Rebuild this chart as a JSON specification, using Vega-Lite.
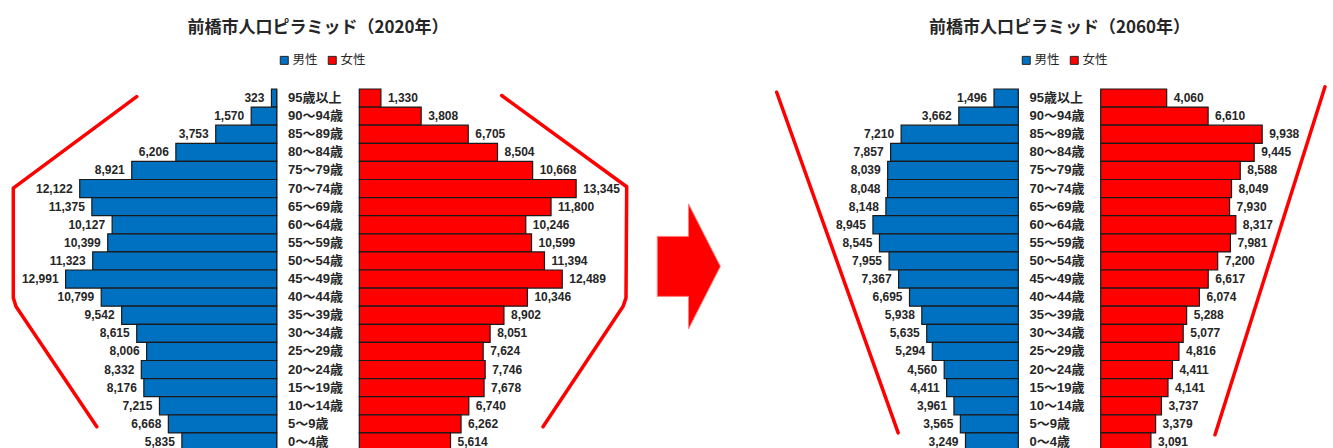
{
  "$schema": "https://vega.github.io/schema/vega-lite/v6.json",
  "padding": {"left": 0, "top": 19, "right": 0, "bottom": 0},
  "spacing": 0,
  "bounds": "flush",
  "background": "white",
  "config": {"view": {"stroke": null}},
  "datasets": {
    "pop": [
      {"year": 2020, "sex": "男性", "age": "95歳以上", "pop": 323},
      {"year": 2020, "sex": "男性", "age": "90～94歳", "pop": 1570},
      {"year": 2020, "sex": "男性", "age": "85～89歳", "pop": 3753},
      {"year": 2020, "sex": "男性", "age": "80～84歳", "pop": 6206},
      {"year": 2020, "sex": "男性", "age": "75～79歳", "pop": 8921},
      {"year": 2020, "sex": "男性", "age": "70～74歳", "pop": 12122},
      {"year": 2020, "sex": "男性", "age": "65～69歳", "pop": 11375},
      {"year": 2020, "sex": "男性", "age": "60～64歳", "pop": 10127},
      {"year": 2020, "sex": "男性", "age": "55～59歳", "pop": 10399},
      {"year": 2020, "sex": "男性", "age": "50～54歳", "pop": 11323},
      {"year": 2020, "sex": "男性", "age": "45～49歳", "pop": 12991},
      {"year": 2020, "sex": "男性", "age": "40～44歳", "pop": 10799},
      {"year": 2020, "sex": "男性", "age": "35～39歳", "pop": 9542},
      {"year": 2020, "sex": "男性", "age": "30～34歳", "pop": 8615},
      {"year": 2020, "sex": "男性", "age": "25～29歳", "pop": 8006},
      {"year": 2020, "sex": "男性", "age": "20～24歳", "pop": 8332},
      {"year": 2020, "sex": "男性", "age": "15～19歳", "pop": 8176},
      {"year": 2020, "sex": "男性", "age": "10～14歳", "pop": 7215},
      {"year": 2020, "sex": "男性", "age": "5～9歳", "pop": 6668},
      {"year": 2020, "sex": "男性", "age": "0～4歳", "pop": 5835},
      {"year": 2020, "sex": "女性", "age": "95歳以上", "pop": 1330},
      {"year": 2020, "sex": "女性", "age": "90～94歳", "pop": 3808},
      {"year": 2020, "sex": "女性", "age": "85～89歳", "pop": 6705},
      {"year": 2020, "sex": "女性", "age": "80～84歳", "pop": 8504},
      {"year": 2020, "sex": "女性", "age": "75～79歳", "pop": 10668},
      {"year": 2020, "sex": "女性", "age": "70～74歳", "pop": 13345},
      {"year": 2020, "sex": "女性", "age": "65～69歳", "pop": 11800},
      {"year": 2020, "sex": "女性", "age": "60～64歳", "pop": 10246},
      {"year": 2020, "sex": "女性", "age": "55～59歳", "pop": 10599},
      {"year": 2020, "sex": "女性", "age": "50～54歳", "pop": 11394},
      {"year": 2020, "sex": "女性", "age": "45～49歳", "pop": 12489},
      {"year": 2020, "sex": "女性", "age": "40～44歳", "pop": 10346},
      {"year": 2020, "sex": "女性", "age": "35～39歳", "pop": 8902},
      {"year": 2020, "sex": "女性", "age": "30～34歳", "pop": 8051},
      {"year": 2020, "sex": "女性", "age": "25～29歳", "pop": 7624},
      {"year": 2020, "sex": "女性", "age": "20～24歳", "pop": 7746},
      {"year": 2020, "sex": "女性", "age": "15～19歳", "pop": 7678},
      {"year": 2020, "sex": "女性", "age": "10～14歳", "pop": 6740},
      {"year": 2020, "sex": "女性", "age": "5～9歳", "pop": 6262},
      {"year": 2020, "sex": "女性", "age": "0～4歳", "pop": 5614},
      {"year": 2060, "sex": "男性", "age": "95歳以上", "pop": 1496},
      {"year": 2060, "sex": "男性", "age": "90～94歳", "pop": 3662},
      {"year": 2060, "sex": "男性", "age": "85～89歳", "pop": 7210},
      {"year": 2060, "sex": "男性", "age": "80～84歳", "pop": 7857},
      {"year": 2060, "sex": "男性", "age": "75～79歳", "pop": 8039},
      {"year": 2060, "sex": "男性", "age": "70～74歳", "pop": 8048},
      {"year": 2060, "sex": "男性", "age": "65～69歳", "pop": 8148},
      {"year": 2060, "sex": "男性", "age": "60～64歳", "pop": 8945},
      {"year": 2060, "sex": "男性", "age": "55～59歳", "pop": 8545},
      {"year": 2060, "sex": "男性", "age": "50～54歳", "pop": 7955},
      {"year": 2060, "sex": "男性", "age": "45～49歳", "pop": 7367},
      {"year": 2060, "sex": "男性", "age": "40～44歳", "pop": 6695},
      {"year": 2060, "sex": "男性", "age": "35～39歳", "pop": 5938},
      {"year": 2060, "sex": "男性", "age": "30～34歳", "pop": 5635},
      {"year": 2060, "sex": "男性", "age": "25～29歳", "pop": 5294},
      {"year": 2060, "sex": "男性", "age": "20～24歳", "pop": 4560},
      {"year": 2060, "sex": "男性", "age": "15～19歳", "pop": 4411},
      {"year": 2060, "sex": "男性", "age": "10～14歳", "pop": 3961},
      {"year": 2060, "sex": "男性", "age": "5～9歳", "pop": 3565},
      {"year": 2060, "sex": "男性", "age": "0～4歳", "pop": 3249},
      {"year": 2060, "sex": "女性", "age": "95歳以上", "pop": 4060},
      {"year": 2060, "sex": "女性", "age": "90～94歳", "pop": 6610},
      {"year": 2060, "sex": "女性", "age": "85～89歳", "pop": 9938},
      {"year": 2060, "sex": "女性", "age": "80～84歳", "pop": 9445},
      {"year": 2060, "sex": "女性", "age": "75～79歳", "pop": 8588},
      {"year": 2060, "sex": "女性", "age": "70～74歳", "pop": 8049},
      {"year": 2060, "sex": "女性", "age": "65～69歳", "pop": 7930},
      {"year": 2060, "sex": "女性", "age": "60～64歳", "pop": 8317},
      {"year": 2060, "sex": "女性", "age": "55～59歳", "pop": 7981},
      {"year": 2060, "sex": "女性", "age": "50～54歳", "pop": 7200},
      {"year": 2060, "sex": "女性", "age": "45～49歳", "pop": 6617},
      {"year": 2060, "sex": "女性", "age": "40～44歳", "pop": 6074},
      {"year": 2060, "sex": "女性", "age": "35～39歳", "pop": 5288},
      {"year": 2060, "sex": "女性", "age": "30～34歳", "pop": 5077},
      {"year": 2060, "sex": "女性", "age": "25～29歳", "pop": 4816},
      {"year": 2060, "sex": "女性", "age": "20～24歳", "pop": 4411},
      {"year": 2060, "sex": "女性", "age": "15～19歳", "pop": 4141},
      {"year": 2060, "sex": "女性", "age": "10～14歳", "pop": 3737},
      {"year": 2060, "sex": "女性", "age": "5～9歳", "pop": 3379},
      {"year": 2060, "sex": "女性", "age": "0～4歳", "pop": 3091}
    ],
    "envelope": [
      {"year": 2020, "side": "男性", "pt": 1, "pop": 8615, "age": 97.9},
      {"year": 2020, "side": "男性", "pt": 2, "pop": 16209, "age": 72.6},
      {"year": 2020, "side": "男性", "pt": 3, "pop": 16209, "age": 42.3},
      {"year": 2020, "side": "男性", "pt": 4, "pop": 16043, "age": 39.9},
      {"year": 2020, "side": "男性", "pt": 5, "pop": 11071, "age": 6.7},
      {"year": 2020, "side": "女性", "pt": 1, "pop": 8763, "age": 98.2},
      {"year": 2020, "side": "女性", "pt": 2, "pop": 16455, "age": 73.0},
      {"year": 2020, "side": "女性", "pt": 3, "pop": 16412, "age": 42.3},
      {"year": 2020, "side": "女性", "pt": 4, "pop": 16228, "age": 39.9},
      {"year": 2020, "side": "女性", "pt": 5, "pop": 11305, "age": 6.7},
      {"year": 2060, "side": "男性", "pt": 1, "pop": 14868, "age": 99.1},
      {"year": 2060, "side": "男性", "pt": 2, "pop": 7391, "age": 5.0},
      {"year": 2060, "side": "女性", "pt": 1, "pop": 13803, "age": 100.6},
      {"year": 2060, "side": "女性", "pt": 2, "pop": 7034, "age": 4.5}
    ],
    "arrow": [{"from": 2020, "to": 2060}]
  },
  "resolve": {"scale": {"color": "independent"}, "legend": {"color": "independent"}},
  "hconcat": [
    {
      "width": 636,
      "height": 362,
      "title": {"text": "前橋市人口ピラミッド（2020年）", "font": "Noto Sans CJK JP", "fontSize": 17, "fontWeight": "bold", "color": "#262626", "anchor": "middle", "offset": 17},
      "resolve": {"scale": {"x": "independent", "y": "independent"}},
      "layer": [
        {
          "data": {"name": "pop"},
          "transform": [{"filter": "datum.year === 2020 && datum.sex === '男性'"}],
          "encoding": {
            "y": {"field": "age", "type": "nominal", "axis": null, "sort": null, "scale": {"paddingInner": 0, "paddingOuter": 0}},
            "x": {"field": "pop", "type": "quantitative", "axis": null, "scale": {"domain": [-22111, 17028], "reverse": true}}
          },
          "layer": [
            {"mark": {"type": "rule", "color": "#BFBFBF", "strokeWidth": 1}, "encoding": {"x": {"datum": 0}, "y": null}},
            {"mark": {"type": "bar", "stroke": "#1a1a1a", "strokeWidth": 1.2},
             "encoding": {"color": {"field": "sex", "type": "nominal", "scale": {"domain": ["男性", "女性"], "range": ["#0070C0", "#FF0000"]},
               "legend": {"orient": "none", "legendX": 278, "legendY": -35, "direction": "horizontal", "title": null, "symbolType": "square", "symbolSize": 64, "symbolStrokeColor": "#262626", "symbolStrokeWidth": 1, "labelFont": "Noto Sans CJK JP", "labelFontSize": 12.5, "labelColor": "#262626", "columnPadding": 8, "labelOffset": 2}}}},
            {"mark": {"type": "text", "align": "right", "baseline": "middle", "dx": -7, "font": "Liberation Sans", "fontSize": 12, "fontWeight": "bold", "color": "#262626"},
             "encoding": {"text": {"field": "pop", "type": "quantitative", "format": ",d"}}}
          ]
        },
        {
          "data": {"name": "pop"},
          "transform": [{"filter": "datum.year === 2020 && datum.sex === '女性'"}],
          "encoding": {
            "y": {"field": "age", "type": "nominal", "axis": null, "sort": null, "scale": {"paddingInner": 0, "paddingOuter": 0}},
            "x": {"field": "pop", "type": "quantitative", "axis": null, "scale": {"domain": [-22111, 17028]}}
          },
          "layer": [
            {"mark": {"type": "bar", "stroke": "#1a1a1a", "strokeWidth": 1.2},
             "encoding": {"color": {"field": "sex", "type": "nominal", "scale": {"domain": ["男性", "女性"], "range": ["#0070C0", "#FF0000"]},
               "legend": {"orient": "none", "legendX": 278, "legendY": -35, "direction": "horizontal", "title": null, "symbolType": "square", "symbolSize": 64, "symbolStrokeColor": "#262626", "symbolStrokeWidth": 1, "labelFont": "Noto Sans CJK JP", "labelFontSize": 12.5, "labelColor": "#262626", "columnPadding": 8, "labelOffset": 2}}}},
            {"mark": {"type": "text", "align": "left", "baseline": "middle", "dx": 7, "font": "Liberation Sans", "fontSize": 12, "fontWeight": "bold", "color": "#262626"},
             "encoding": {"text": {"field": "pop", "type": "quantitative", "format": ",d"}}}
          ]
        },
        {
          "data": {"name": "pop"},
          "transform": [{"filter": "datum.year === 2020 && datum.sex === '男性'"}],
          "mark": {"type": "text", "align": "left", "baseline": "middle", "dx": -30, "font": "Liberation Sans, Noto Sans CJK JP", "fontSize": 13, "fontWeight": "bold", "color": "#262626"},
          "encoding": {
            "y": {"field": "age", "type": "nominal", "axis": null, "sort": null, "scale": {"paddingInner": 0, "paddingOuter": 0}},
            "x": {"datum": 0, "type": "quantitative", "axis": null, "scale": {"domain": [-1, 1]}},
            "text": {"field": "age", "type": "nominal"}
          }
        },
        {
          "data": {"name": "envelope"},
          "transform": [{"filter": "datum.year === 2020 && datum.side === '男性'"}],
          "mark": {"type": "line", "color": "#FF0000", "strokeWidth": 3.5, "strokeJoin": "round", "strokeCap": "round"},
          "encoding": {
            "x": {"field": "pop", "type": "quantitative", "axis": null, "scale": {"domain": [-22111, 17028], "reverse": true}},
            "y": {"field": "age", "type": "quantitative", "axis": null, "scale": {"domain": [0, 100]}},
            "order": {"field": "pt", "type": "quantitative"}
          }
        },
        {
          "data": {"name": "envelope"},
          "transform": [{"filter": "datum.year === 2020 && datum.side === '女性'"}],
          "mark": {"type": "line", "color": "#FF0000", "strokeWidth": 3.5, "strokeJoin": "round", "strokeCap": "round"},
          "encoding": {
            "x": {"field": "pop", "type": "quantitative", "axis": null, "scale": {"domain": [-22111, 17028]}},
            "y": {"field": "age", "type": "quantitative", "axis": null, "scale": {"domain": [0, 100]}},
            "order": {"field": "pt", "type": "quantitative"}
          }
        }
      ]
    },
    {
      "width": 150,
      "height": 362,
      "data": {"name": "arrow"},
      "mark": {"type": "point", "shape": "M-0.5,-0.48L0,-0.48L0,-1L0.51,0L0,1L0,0.48L-0.5,0.48Z", "filled": true, "color": "#FF0000", "opacity": 1, "size": 15625, "stroke": "#FF8080", "strokeWidth": 1},
      "encoding": {
        "x": {"datum": 0.35, "type": "quantitative", "axis": null, "scale": {"domain": [0, 1]}},
        "y": {"datum": 0.51, "type": "quantitative", "axis": null, "scale": {"domain": [0, 1]}}
      }
    },
    {
      "width": 547,
      "height": 362,
      "title": {"text": "前橋市人口ピラミッド（2060年）", "font": "Noto Sans CJK JP", "fontSize": 17, "fontWeight": "bold", "color": "#262626", "anchor": "middle", "offset": 17},
      "resolve": {"scale": {"x": "independent", "y": "independent"}},
      "layer": [
        {
          "data": {"name": "pop"},
          "transform": [{"filter": "datum.year === 2060 && datum.sex === '男性'"}],
          "encoding": {
            "y": {"field": "age", "type": "nominal", "axis": null, "sort": null, "scale": {"paddingInner": 0, "paddingOuter": 0}},
            "x": {"field": "pop", "type": "quantitative", "axis": null, "scale": {"domain": [-19366, 14295], "reverse": true}}
          },
          "layer": [
            {"mark": {"type": "rule", "color": "#BFBFBF", "strokeWidth": 1}, "encoding": {"x": {"datum": 0}, "y": null}},
            {"mark": {"type": "bar", "stroke": "#1a1a1a", "strokeWidth": 1.2},
             "encoding": {"color": {"field": "sex", "type": "nominal", "scale": {"domain": ["男性", "女性"], "range": ["#0070C0", "#FF0000"]},
               "legend": {"orient": "none", "legendX": 234, "legendY": -35, "direction": "horizontal", "title": null, "symbolType": "square", "symbolSize": 64, "symbolStrokeColor": "#262626", "symbolStrokeWidth": 1, "labelFont": "Noto Sans CJK JP", "labelFontSize": 12.5, "labelColor": "#262626", "columnPadding": 8, "labelOffset": 2}}}},
            {"mark": {"type": "text", "align": "right", "baseline": "middle", "dx": -7, "font": "Liberation Sans", "fontSize": 12, "fontWeight": "bold", "color": "#262626"},
             "encoding": {"text": {"field": "pop", "type": "quantitative", "format": ",d"}}}
          ]
        },
        {
          "data": {"name": "pop"},
          "transform": [{"filter": "datum.year === 2060 && datum.sex === '女性'"}],
          "encoding": {
            "y": {"field": "age", "type": "nominal", "axis": null, "sort": null, "scale": {"paddingInner": 0, "paddingOuter": 0}},
            "x": {"field": "pop", "type": "quantitative", "axis": null, "scale": {"domain": [-19366, 14295]}}
          },
          "layer": [
            {"mark": {"type": "bar", "stroke": "#1a1a1a", "strokeWidth": 1.2},
             "encoding": {"color": {"field": "sex", "type": "nominal", "scale": {"domain": ["男性", "女性"], "range": ["#0070C0", "#FF0000"]},
               "legend": {"orient": "none", "legendX": 234, "legendY": -35, "direction": "horizontal", "title": null, "symbolType": "square", "symbolSize": 64, "symbolStrokeColor": "#262626", "symbolStrokeWidth": 1, "labelFont": "Noto Sans CJK JP", "labelFontSize": 12.5, "labelColor": "#262626", "columnPadding": 8, "labelOffset": 2}}}},
            {"mark": {"type": "text", "align": "left", "baseline": "middle", "dx": 7, "font": "Liberation Sans", "fontSize": 12, "fontWeight": "bold", "color": "#262626"},
             "encoding": {"text": {"field": "pop", "type": "quantitative", "format": ",d"}}}
          ]
        },
        {
          "data": {"name": "pop"},
          "transform": [{"filter": "datum.year === 2060 && datum.sex === '男性'"}],
          "mark": {"type": "text", "align": "left", "baseline": "middle", "dx": -30, "font": "Liberation Sans, Noto Sans CJK JP", "fontSize": 13, "fontWeight": "bold", "color": "#262626"},
          "encoding": {
            "y": {"field": "age", "type": "nominal", "axis": null, "sort": null, "scale": {"paddingInner": 0, "paddingOuter": 0}},
            "x": {"datum": 0, "type": "quantitative", "axis": null, "scale": {"domain": [-1, 1]}},
            "text": {"field": "age", "type": "nominal"}
          }
        },
        {
          "data": {"name": "envelope"},
          "transform": [{"filter": "datum.year === 2060 && datum.side === '男性'"}],
          "mark": {"type": "line", "color": "#FF0000", "strokeWidth": 3.5, "strokeJoin": "round", "strokeCap": "round"},
          "encoding": {
            "x": {"field": "pop", "type": "quantitative", "axis": null, "scale": {"domain": [-19366, 14295], "reverse": true}},
            "y": {"field": "age", "type": "quantitative", "axis": null, "scale": {"domain": [0, 100]}},
            "order": {"field": "pt", "type": "quantitative"}
          }
        },
        {
          "data": {"name": "envelope"},
          "transform": [{"filter": "datum.year === 2060 && datum.side === '女性'"}],
          "mark": {"type": "line", "color": "#FF0000", "strokeWidth": 3.5, "strokeJoin": "round", "strokeCap": "round"},
          "encoding": {
            "x": {"field": "pop", "type": "quantitative", "axis": null, "scale": {"domain": [-19366, 14295]}},
            "y": {"field": "age", "type": "quantitative", "axis": null, "scale": {"domain": [0, 100]}},
            "order": {"field": "pt", "type": "quantitative"}
          }
        }
      ]
    }
  ]
}
